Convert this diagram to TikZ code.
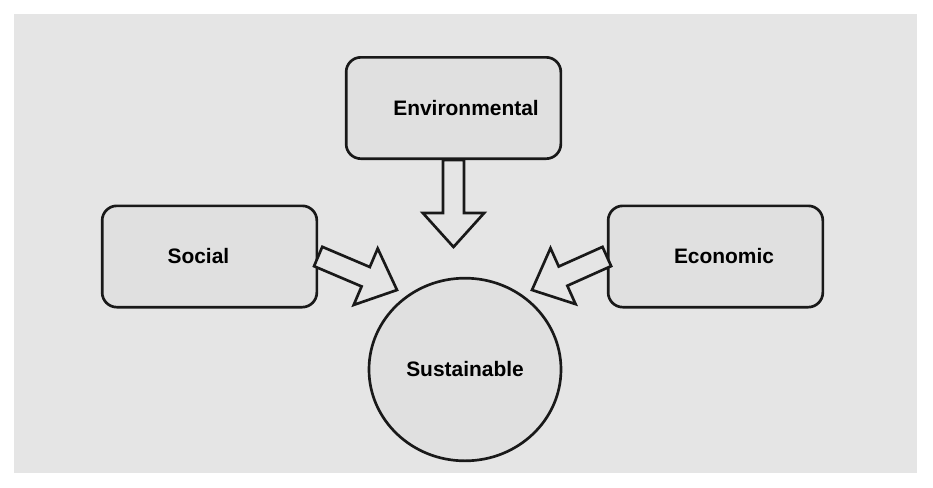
\documentclass[tikz,border=0pt]{standalone}
\usepackage{fontspec}
\setmainfont{Liberation Sans}
\usetikzlibrary{shapes.geometric,calc}

\definecolor{bggray}{RGB}{229,229,229}
\definecolor{boxgray}{RGB}{224,224,224}

\tikzset{
  pillarbox/.style={rectangle, rounded corners=11pt, draw=black!90, line width=2pt,
    fill=boxgray, minimum width=161pt, minimum height=76pt},
  goalshape/.style={ellipse, draw=black!90, line width=2pt, fill=boxgray,
    minimum width=144pt, minimum height=137pt, inner sep=0pt},
  fatarrow/.style={draw=black!90, line width=2pt, fill=bggray, line join=miter}
}

% block arrow from a tail point to a tip point
\newcommand{\blockarrow}[2]{%
  \coordinate (neck) at ($(#2)!25.5pt!(#1)$);
  \draw[fatarrow] ($(#1)!7.9pt!90:(#2)$) -- ($(neck)!7.9pt!90:(#2)$)
    -- ($(neck)!23pt!90:(#2)$) -- (#2) -- ($(neck)!23pt!-90:(#2)$)
    -- ($(neck)!7.9pt!-90:(#2)$) -- ($(#1)!7.9pt!-90:(#2)$) -- cycle;}

\begin{document}
\begin{tikzpicture}[x=0.75pt, y=-0.75pt, font=\bfseries\fontsize{15.7}{19}\selectfont]
\useasboundingbox (0,0) rectangle (933,487);
\fill[bggray] (14,14) rectangle (917,473);

% the three pillars
\node[pillarbox, label={[xshift=9.4pt]center:Environmental}] (env) at (453.5,108) {};
\node[pillarbox, label={[xshift=-8.3pt]center:Social}] (soc) at (209.5,256.5) {};
\node[pillarbox, label={[xshift=6.4pt]center:Economic}] (eco) at (715.5,256.5) {};

% the goal
\node[goalshape] (sus) at (465,369.5) {Sustainable};

% arrow tips
\coordinate (envTip) at (453.5,247);
\coordinate (socTip) at (397,290);
\coordinate (ecoTip) at (532,290);

\blockarrow{env.south}{envTip}
\blockarrow{soc.east}{socTip}
\blockarrow{eco.west}{ecoTip}
\end{tikzpicture}
\end{document}
